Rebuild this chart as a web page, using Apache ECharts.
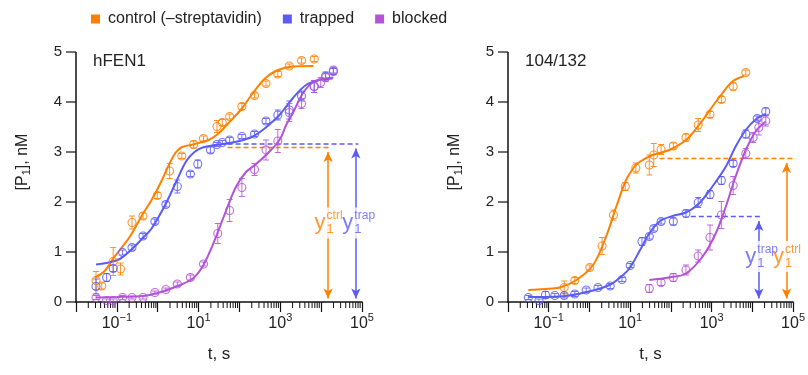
<!DOCTYPE html>
<html lang="en">
<head>
<meta charset="UTF-8">
<title>Product accumulation, hFEN1 vs 104/132</title>
<script src="https://cdn.jsdelivr.net/npm/echarts@6/dist/echarts.min.js"></script>
<style>
  html, body { margin: 0; background: #fff; }
  #chart { width: 808px; height: 375px; }
</style>
</head>
<body>
<div id="chart"></div>
<script>
// time is stored as log10(t / s); rows are [log10 t, [P1] nM, error]
var hfen1Ctrl = [
  [-1.51, 0.43, 0.18], [-1.37, 0.32, 0.06], [-1.09, 0.81, 0.28], [-0.91, 0.66, 0.12],
  [-0.63, 1.59, 0.13], [-0.36, 1.72, 0.06], [-0.01, 2.13, 0.06], [0.29, 2.62, 0.15],
  [0.59, 2.92, 0.05], [0.88, 3.15, 0.07], [1.12, 3.27, 0.05], [1.45, 3.51, 0.12],
  [1.58, 3.59, 0.06], [1.76, 3.71, 0.05], [2.06, 3.91, 0.06], [2.37, 4.13, 0.05],
  [2.65, 4.37, 0.05], [2.94, 4.56, 0.05], [3.22, 4.72, 0.04], [3.52, 4.83, 0.05],
  [3.83, 4.86, 0.05]
];
var hfen1Trap = [
  [-1.51, 0.31, 0.15], [-1.25, 0.49, 0.08], [-1.09, 0.67, 0.06], [-0.86, 0.99, 0.05],
  [-0.63, 1.09, 0.05], [-0.36, 1.32, 0.05], [-0.07, 1.61, 0.05], [0.20, 1.95, 0.05],
  [0.48, 2.31, 0.13], [0.80, 2.56, 0.05], [0.98, 2.76, 0.08], [1.29, 3.04, 0.06],
  [1.45, 3.15, 0.04], [1.58, 3.19, 0.04], [1.76, 3.24, 0.05], [2.06, 3.31, 0.04],
  [2.37, 3.36, 0.05], [2.65, 3.62, 0.05], [2.94, 3.74, 0.10], [3.22, 3.84, 0.18],
  [3.52, 4.12, 0.10], [3.83, 4.31, 0.12], [4.11, 4.52, 0.08], [4.30, 4.61, 0.06]
];
var hfen1Blocked = [
  [-1.51, 0.09, 0.04], [-1.25, 0.03, 0.03], [-1.09, 0.03, 0.03], [-0.86, 0.09, 0.04],
  [-0.63, 0.09, 0.03], [-0.36, 0.09, 0.03], [-0.07, 0.19, 0.03], [0.20, 0.25, 0.03],
  [0.48, 0.36, 0.04], [0.80, 0.49, 0.05], [1.12, 0.76, 0.04], [1.47, 1.37, 0.20],
  [1.76, 1.83, 0.22], [2.06, 2.29, 0.18], [2.37, 2.65, 0.12], [2.65, 3.04, 0.20],
  [2.94, 3.22, 0.23], [3.22, 3.79, 0.18], [3.52, 3.97, 0.10], [3.83, 4.31, 0.12],
  [3.99, 4.39, 0.10], [4.11, 4.49, 0.08], [4.30, 4.64, 0.06]
];
var hfen1CtrlFit = [
  [-1.54, 0.49], [-1.3, 0.62], [-1.09, 0.87], [-0.9, 1.07], [-0.68, 1.31], [-0.38, 1.74],
  [-0.15, 2.04], [0.05, 2.35], [0.29, 2.77], [0.45, 3.0], [0.6, 3.1], [0.86, 3.15],
  [1.27, 3.25], [1.5, 3.38], [1.7, 3.55], [2.06, 3.87], [2.32, 4.17], [2.65, 4.49],
  [2.98, 4.65], [3.3, 4.71], [3.81, 4.72]
];
var hfen1TrapFit = [
  [-1.51, 0.75], [-1.2, 0.79], [-0.93, 0.86], [-0.68, 1.02], [-0.4, 1.25], [-0.15, 1.47],
  [0.2, 1.97], [0.46, 2.42], [0.7, 2.82], [0.9, 3.0], [1.1, 3.09], [1.4, 3.14],
  [1.7, 3.17], [2.0, 3.22], [2.3, 3.3], [2.57, 3.44], [2.8, 3.6], [2.98, 3.74],
  [3.3, 4.07], [3.63, 4.34], [3.95, 4.44], [4.28, 4.47]
];
var hfen1BlockedFit = [
  [-1.51, 0.09], [-1.0, 0.1], [-0.36, 0.12], [0.0, 0.18], [0.46, 0.31], [0.86, 0.47],
  [1.1, 0.71], [1.3, 1.05], [1.43, 1.31], [1.68, 1.84], [1.92, 2.31], [2.16, 2.6],
  [2.35, 2.72], [2.65, 2.94], [2.98, 3.24], [3.15, 3.55], [3.3, 3.77], [3.55, 4.17],
  [3.79, 4.39], [4.11, 4.47], [4.3, 4.49]
];

var mutCtrl = [
  [-0.62, 0.29, 0.13], [-0.36, 0.43, 0.06], [0.01, 0.69, 0.05], [0.31, 1.12, 0.17],
  [0.59, 1.74, 0.10], [0.88, 2.31, 0.08], [1.14, 2.68, 0.10], [1.47, 2.74, 0.20],
  [1.58, 2.94, 0.23], [1.76, 3.05, 0.10], [2.06, 3.12, 0.06], [2.37, 3.29, 0.07],
  [2.67, 3.54, 0.13], [2.96, 3.75, 0.06], [3.24, 4.05, 0.06], [3.53, 4.31, 0.07],
  [3.84, 4.59, 0.05]
];
var mutTrap = [
  [-1.50, 0.09, 0.04], [-1.24, 0.03, 0.03], [-1.08, 0.14, 0.07], [-0.85, 0.13, 0.04],
  [-0.62, 0.13, 0.05], [-0.36, 0.16, 0.05], [-0.08, 0.24, 0.04], [0.21, 0.29, 0.04],
  [0.51, 0.32, 0.05], [0.80, 0.45, 0.04], [1.00, 0.73, 0.04], [1.29, 1.21, 0.08],
  [1.47, 1.31, 0.05], [1.58, 1.47, 0.05], [1.76, 1.61, 0.05], [2.06, 1.61, 0.07],
  [2.37, 1.77, 0.07], [2.67, 1.99, 0.10], [2.96, 2.15, 0.08], [3.24, 2.43, 0.08],
  [3.53, 2.77, 0.06], [3.84, 3.36, 0.08], [4.12, 3.67, 0.05], [4.33, 3.81, 0.07]
];
var mutBlocked = [
  [1.47, 0.27, 0.08], [1.76, 0.39, 0.06], [2.06, 0.49, 0.08], [2.37, 0.64, 0.10],
  [2.67, 0.92, 0.12], [2.96, 1.29, 0.25], [3.24, 1.74, 0.27], [3.53, 2.33, 0.18],
  [3.84, 2.97, 0.10], [4.02, 3.29, 0.10], [4.16, 3.49, 0.15], [4.33, 3.62, 0.10]
];
var mutCtrlFit = [
  [-1.5, 0.24], [-1.1, 0.26], [-0.73, 0.29], [-0.32, 0.44], [0.09, 0.74], [0.41, 1.31],
  [0.66, 1.91], [0.9, 2.44], [1.1, 2.7], [1.23, 2.8], [1.55, 2.94], [1.96, 3.04],
  [2.37, 3.24], [2.69, 3.54], [3.02, 3.91], [3.26, 4.17], [3.51, 4.41], [3.8, 4.52]
];
var mutTrapFit = [
  [-1.5, 0.1], [-0.73, 0.11], [0.09, 0.23], [0.49, 0.34], [0.74, 0.48], [0.98, 0.67],
  [1.23, 1.02], [1.47, 1.37], [1.72, 1.61], [2.04, 1.72], [2.37, 1.79], [2.69, 1.97],
  [3.02, 2.31], [3.35, 2.71], [3.59, 3.11], [3.84, 3.44], [4.08, 3.65], [4.33, 3.76]
];
var mutBlockedFit = [
  [1.47, 0.44], [1.96, 0.49], [2.37, 0.57], [2.78, 0.91], [3.1, 1.37], [3.35, 1.91],
  [3.59, 2.51], [3.84, 3.04], [4.08, 3.41], [4.33, 3.61]
];

// y1 annotations: dashed level, double arrow, label anchor
var hfen1CtrlDash = [[1.71, 3.09], [4.23, 3.09]];
var hfen1TrapDash = [[1.71, 3.16], [4.91, 3.16]];
var hfen1CtrlArrow = [[4.17, 3.0], [4.17, 0.07]];
var hfen1TrapArrow = [[4.85, 3.07], [4.85, 0.07]];
var hfen1CtrlLabel = [4.17, 1.58];
var hfen1TrapLabel = [4.85, 1.58];
var mutCtrlDash = [[1.72, 2.87], [5.14, 2.87]];
var mutTrapDash = [[2.49, 1.71], [4.24, 1.71]];
var mutCtrlArrow = [[4.84, 2.78], [4.84, 0.07]];
var mutTrapArrow = [[4.16, 1.62], [4.16, 0.07]];
var mutCtrlLabel = [4.84, 0.91];
var mutTrapLabel = [4.16, 0.91];

var seriesNames = ['control (\u2013streptavidin)', 'trapped', 'blocked'];
var panelTitles = ['hFEN1', '104/132'];
var xLabelExps = [-1, 1, 3, 5];
var yTicks = [0, 1, 2, 3, 4, 5];
var X_MIN = -2, X_MAX = 5;

var FONT = '"Liberation Sans", Helvetica, Arial, sans-serif';
var TEXT = '#222';
var AXIS = '#111';
var ORANGE = '#ff8000', BLUE = '#5b5bf5', PURPLE = '#b452d8';
var colors = [ORANGE, BLUE, PURPLE];

// minor tick positions for a log axis: log10(k * 10^n)
var minorTicks = [];
for (var n = X_MIN; n < X_MAX; n++) {
  for (var k = 2; k <= 9; k++) minorTicks.push([n + Math.log10(k), 0]);
}

function errorBar(color) {
  return function (params, api) {
    var x = api.value(0), y = api.value(1), e = api.value(2);
    var hi = api.coord([x, y + e]), lo = api.coord([x, y - e]);
    var w = 3;
    var st = { stroke: color, lineWidth: 1, opacity: 0.85 };
    return {
      type: 'group',
      children: [
        { type: 'line', shape: { x1: hi[0], y1: hi[1], x2: lo[0], y2: lo[1] }, style: st },
        { type: 'line', shape: { x1: hi[0] - w, y1: hi[1], x2: hi[0] + w, y2: hi[1] }, style: st },
        { type: 'line', shape: { x1: lo[0] - w, y1: lo[1], x2: lo[0] + w, y2: lo[1] }, style: st }
      ]
    };
  };
}

function annotation(i, color, dash, arrow, label, supText) {
  return [
    {
      type: 'line', xAxisIndex: i, yAxisIndex: i, data: dash, symbol: 'none', clip: false,
      silent: true, z: 2,
      lineStyle: { color: color, width: 1.5, type: [5, 3] },
      markLine: {
        silent: true, symbol: ['arrow', 'arrow'], symbolSize: [7, 10],
        lineStyle: { color: color, width: 1.5, type: 'solid' },
        label: { show: false },
        data: [[{ coord: arrow[0] }, { coord: arrow[1] }]]
      }
    },
    {
      type: 'scatter', xAxisIndex: i, yAxisIndex: i, data: [label], symbolSize: 1, silent: true, z: 6,
      itemStyle: { color: 'transparent' },
      label: {
        show: true, position: 'left', distance: 2, formatter: 'y',
        color: color, fontSize: 22, fontFamily: FONT
      }
    },
    {
      type: 'scatter', xAxisIndex: i, yAxisIndex: i, data: [label], symbolSize: 1, silent: true, z: 6,
      itemStyle: { color: 'transparent' },
      label: {
        show: true, position: 'right', distance: -3,
        formatter: '{a|' + supText + '}\n{b|1}',
        backgroundColor: '#fff', padding: [2, 1, 2, 1],
        rich: {
          a: { color: color, fontSize: 12, fontFamily: FONT, lineHeight: 13 },
          b: { color: color, fontSize: 13, fontFamily: FONT, lineHeight: 14 }
        }
      }
    }
  ];
}

function panel(i, sets, annots) {
  var out = [];
  sets.forEach(function (d, j) {
    var c = colors[j];
    out.push({
      name: seriesNames[j] + ' fit', type: 'line', xAxisIndex: i, yAxisIndex: i,
      data: d[1], smooth: 0.35, symbol: 'none', silent: true, z: 3,
      lineStyle: { color: c, width: 2 }, itemStyle: { color: c }
    });
    out.push({
      type: 'custom', xAxisIndex: i, yAxisIndex: i, data: d[0], silent: true, z: 4,
      encode: { x: 0, y: 1 }, renderItem: errorBar(c)
    });
    out.push({
      name: seriesNames[j], type: 'scatter', xAxisIndex: i, yAxisIndex: i, z: 5,
      data: d[0].map(function (r) { return [r[0], r[1]]; }),
      symbol: 'circle', symbolSize: 8,
      itemStyle: { color: 'transparent', borderColor: c, borderWidth: 1.1, opacity: 0.85 }
    });
  });
  out.push({
    type: 'custom', xAxisIndex: i, yAxisIndex: i, data: minorTicks, clip: false, silent: true,
    renderItem: function (params, api) {
      var p = api.coord([api.value(0), 0]);
      return { type: 'line', shape: { x1: p[0], y1: p[1], x2: p[0], y2: p[1] + 6 },
        style: { stroke: AXIS, lineWidth: 1 } };
    }
  });
  return out.concat(annots);
}

function xAxis(i) {
  return {
    gridIndex: i, type: 'value', min: X_MIN, max: X_MAX, interval: 1,
    name: 't, s', nameLocation: 'middle', nameGap: 44,
    nameTextStyle: { fontSize: 17, color: TEXT, fontFamily: FONT },
    axisLine: { onZero: false, lineStyle: { color: AXIS, width: 1.5 } },
    axisTick: { length: 10, lineStyle: { color: AXIS, width: 1.2 } },
    splitLine: { show: false },
    axisLabel: {
      margin: 10,
      formatter: function (v) {
        if (xLabelExps.indexOf(Math.round(v)) < 0) return '';
        var e = v < 0 ? '\u2212' + Math.abs(v) : String(v);
        return '{b|10}{s|' + e + '}';
      },
      rich: {
        b: { fontSize: 16, color: TEXT, fontFamily: FONT },
        s: { fontSize: 11, color: TEXT, fontFamily: FONT, padding: [0, 0, 12, 0] }
      }
    }
  };
}

function yAxis(i) {
  return {
    gridIndex: i, type: 'value', min: 0, max: 5, interval: 1,
    name: '[P{s|1}], nM', nameLocation: 'middle', nameGap: 44,
    nameTextStyle: {
      fontSize: 16, color: TEXT, fontFamily: FONT, padding: [0, 0, 0, 30],
      rich: { s: { fontSize: 11, color: TEXT, fontFamily: FONT, padding: [8, 0, 0, 0] } }
    },
    axisLine: { show: false },
    axisTick: { show: false },
    splitLine: { show: false },
    axisLabel: { margin: 14, fontSize: 15, color: TEXT, fontFamily: FONT }
  };
}

var series = panel(0, [[hfen1Ctrl, hfen1CtrlFit], [hfen1Trap, hfen1TrapFit], [hfen1Blocked, hfen1BlockedFit]],
  annotation(0, ORANGE, hfen1CtrlDash, hfen1CtrlArrow, hfen1CtrlLabel, 'ctrl')
    .concat(annotation(0, BLUE, hfen1TrapDash, hfen1TrapArrow, hfen1TrapLabel, 'trap')))
  .concat(panel(1, [[mutCtrl, mutCtrlFit], [mutTrap, mutTrapFit], [mutBlocked, mutBlockedFit]],
    annotation(1, BLUE, mutTrapDash, mutTrapArrow, mutTrapLabel, 'trap')
      .concat(annotation(1, ORANGE, mutCtrlDash, mutCtrlArrow, mutCtrlLabel, 'ctrl'))));

var chart = echarts.init(document.getElementById('chart'));
chart.setOption({
  animation: false,
  backgroundColor: '#fff',
  title: panelTitles.map(function (t, i) {
    return { text: t, left: i === 0 ? 88 : 520, top: 48,
      textStyle: { fontSize: 17, fontWeight: 'normal', color: TEXT, fontFamily: FONT } };
  }),
  legend: {
    left: 86, top: 6, itemGap: 21, itemWidth: 9, itemHeight: 9, icon: 'rect', selectedMode: false,
    textStyle: { fontSize: 16, color: TEXT, fontFamily: FONT, padding: [0, 0, 0, 3] },
    data: seriesNames.map(function (n, j) {
      return { name: n, itemStyle: { color: colors[j], borderWidth: 0, opacity: 1 } };
    })
  },
  grid: [
    { left: 76, right: 446, top: 52, bottom: 73 },
    { left: 508, right: 14, top: 52, bottom: 73 }
  ],
  xAxis: [xAxis(0), xAxis(1)],
  yAxis: [yAxis(0), yAxis(1)],
  series: series
});

// y axis line and ticks as graphic elements, placed through each grid's scales
var frame = [];
[0, 1].forEach(function (g) {
  var bottom = chart.convertToPixel({ gridIndex: g }, [X_MIN, yTicks[0]]);
  var top = chart.convertToPixel({ gridIndex: g }, [X_MIN, yTicks[yTicks.length - 1]]);
  frame.push({
    type: 'line', zlevel: 5, silent: true,
    shape: { x1: bottom[0], y1: bottom[1] + 0.75, x2: top[0], y2: top[1] },
    style: { stroke: AXIS, lineWidth: 1.5 }
  });
  yTicks.forEach(function (v) {
    var p = chart.convertToPixel({ gridIndex: g }, [X_MIN, v]);
    frame.push({
      type: 'line', zlevel: 5, silent: true,
      shape: { x1: p[0] - 10, y1: p[1], x2: p[0], y2: p[1] },
      style: { stroke: AXIS, lineWidth: 1.2 }
    });
  });
});
chart.setOption({ graphic: frame });
</script>
</body>
</html>
